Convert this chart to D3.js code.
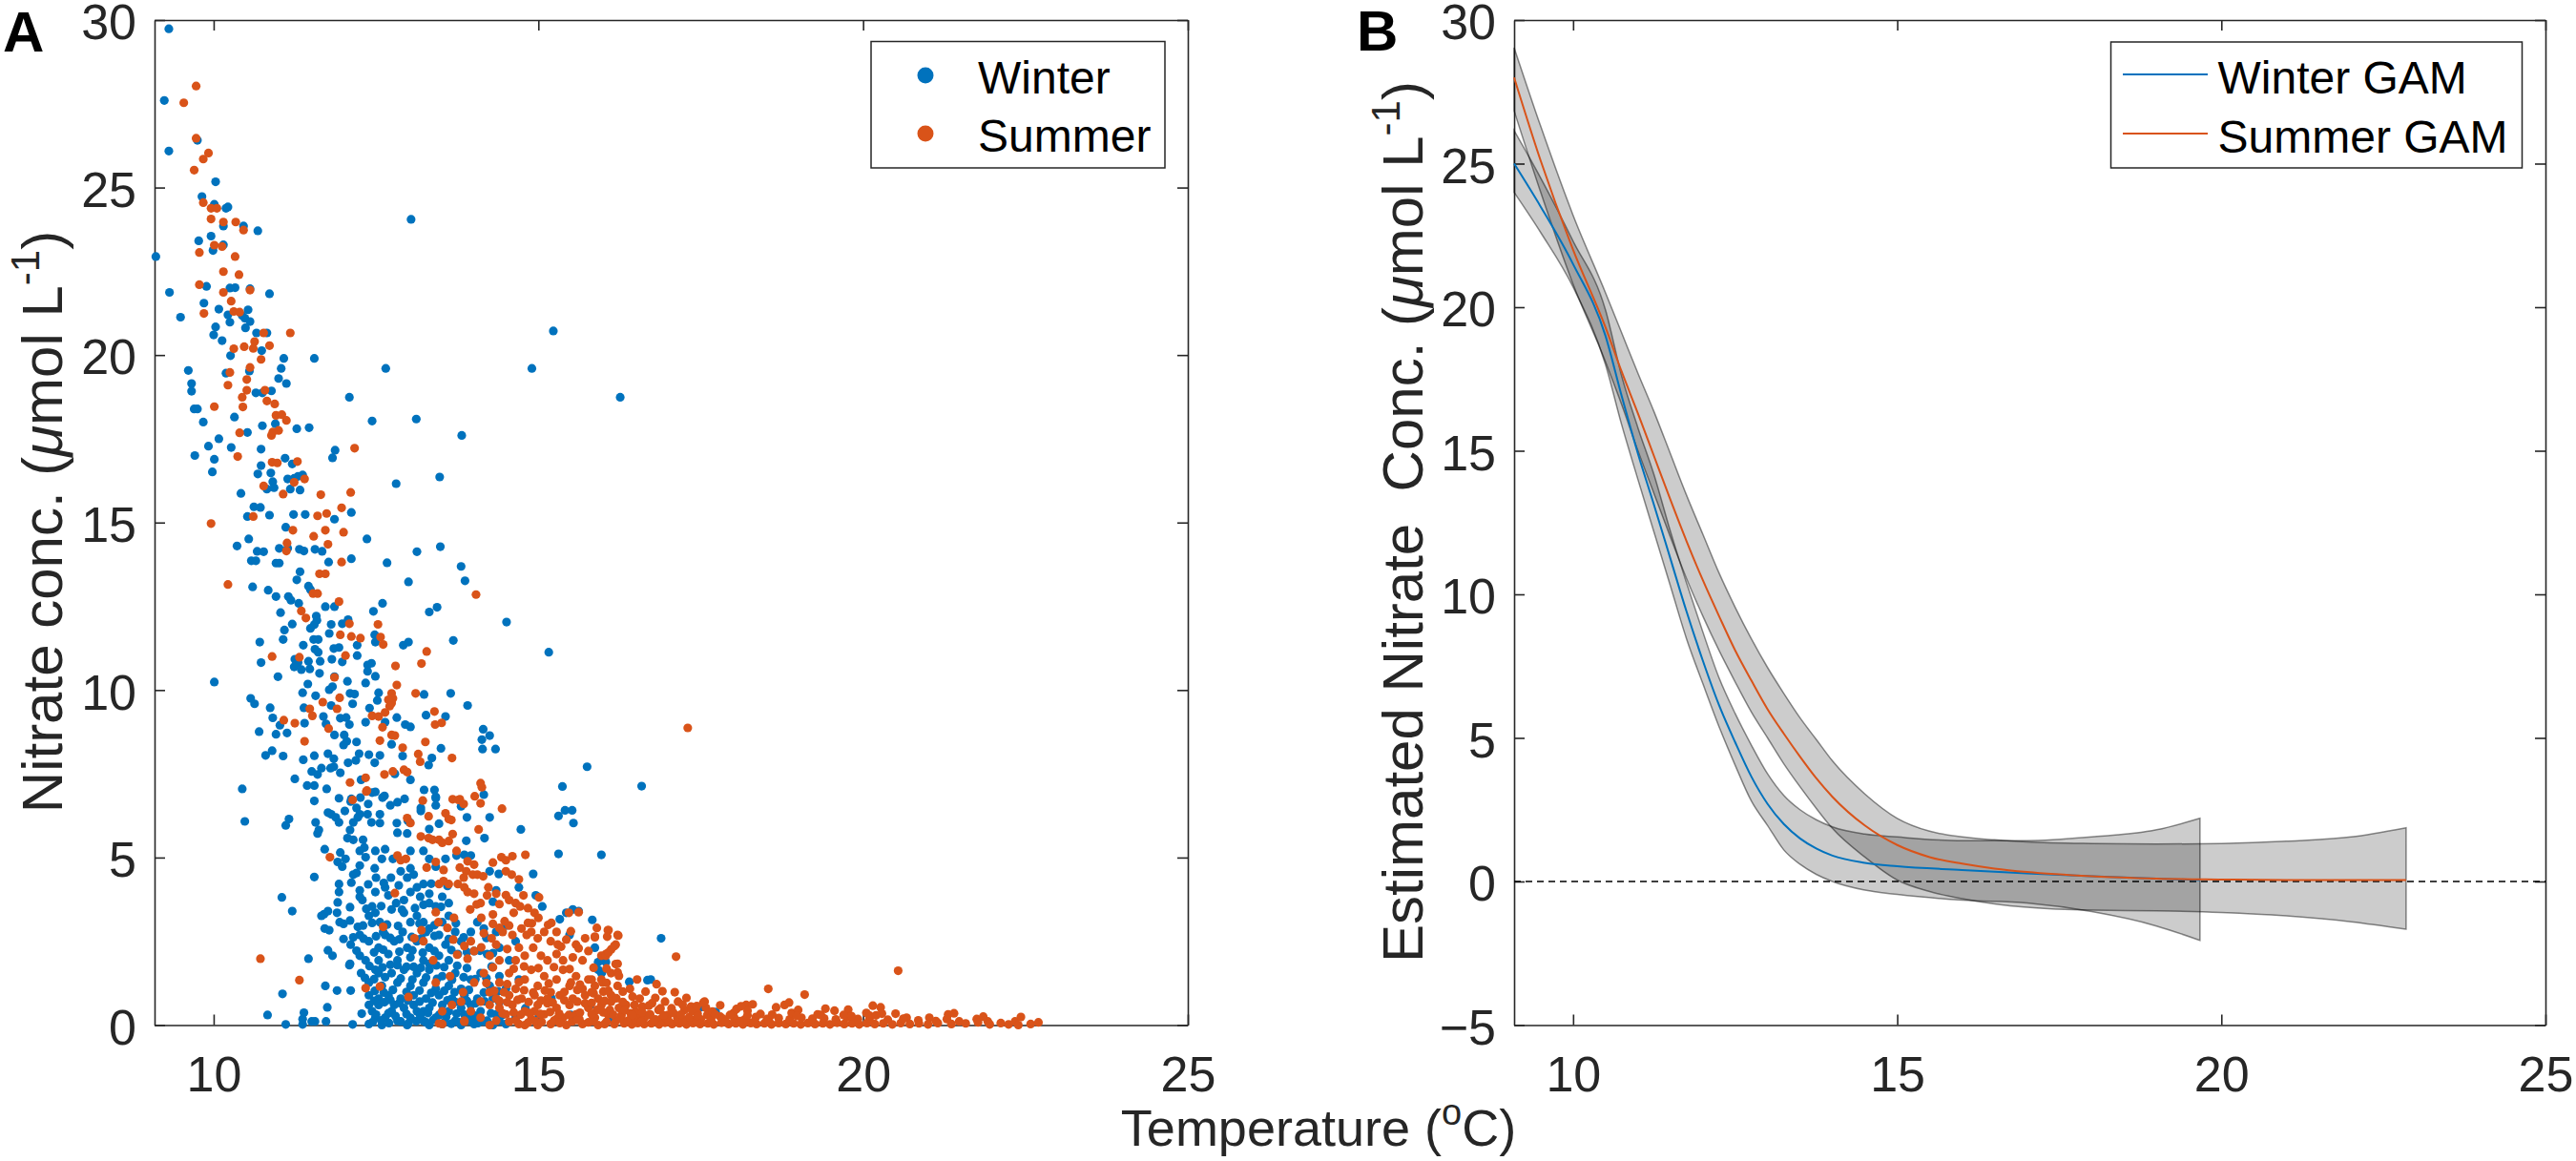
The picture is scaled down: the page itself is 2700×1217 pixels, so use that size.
<!DOCTYPE html>
<html>
<head>
<meta charset="utf-8">
<script src="https://cdn.jsdelivr.net/npm/d3@7"></script>
<style>
  body { margin: 0; background: #fff; }
  svg text { font-family: "Liberation Sans", Arial, Helvetica, sans-serif; }
</style>
</head>
<body>
<div id="chart"></div>
<script>
// ---- data ----
var xTicks = [10, 15, 20, 25]
var yTicksA = [0, 5, 10, 15, 20, 25, 30]
var yTicksB = [-5, 0, 5, 10, 15, 20, 25, 30]

// panel A, [temperature, nitrate]
var winterPoints = [
  [9.31,29.74],[9.24,27.6],[9.31,26.09],[9.75,26.41],[10.03,25.17],[9.82,24.73],[10.01,24.5],[10.19,24.38],[10.22,24.42],[10.15,23.85],
  [10.46,23.85],[10.68,23.71],[13.04,24.05],[9.77,23.41],[9.96,23.55],[9.99,23.12],[10.15,23.29],[9.11,22.94],[9.89,22.05],[10.25,22.0],
  [10.33,22.01],[10.56,21.98],[9.32,21.87],[10.86,21.83],[9.85,21.55],[9.49,21.13],[10.08,21.37],[10.22,21.2],[10.44,21.18],[10.53,21.35],
  [10.25,20.98],[10.48,21.1],[10.56,21.0],[10.03,20.84],[10.49,20.81],[10.0,20.6],[10.66,20.66],[10.82,20.66],[10.13,20.43],[10.74,20.13],
  [10.26,19.98],[11.08,19.9],[11.55,19.9],[12.65,19.6],[14.9,19.6],[15.23,20.72],[16.26,18.74],[9.61,19.54],[10.55,19.52],[11.04,19.6],
  [10.19,19.46],[9.66,19.15],[11.0,19.3],[11.12,19.15],[9.66,18.92],[10.65,18.87],[10.75,18.87],[10.89,18.93],[12.09,18.74],[9.7,18.39],
  [9.75,18.39],[10.32,18.15],[9.84,18.0],[12.44,18.03],[13.12,18.09],[10.75,17.89],[10.95,17.95],[11.28,17.8],[11.47,17.83],[10.52,17.69],
  [13.82,17.6],[10.08,17.5],[9.92,17.28],[10.27,17.24],[11.87,17.16],[11.83,16.93],[9.71,17.0],[10.01,16.89],[10.73,17.19],[11.1,16.92],
  [11.21,16.75],[9.98,16.51],[10.73,16.7],[10.68,16.45],[10.88,16.48],[13.48,16.36],[11.14,16.3],[11.24,16.32],[11.3,16.38],[11.37,16.42],
  [10.91,16.22],[10.82,16.0],[10.93,16.04],[11.18,16.0],[11.33,15.97],[12.81,16.16],[10.42,15.87],[10.62,15.47],[10.72,15.45],[10.52,15.18],
  [10.86,15.22],[11.23,15.24],[11.41,15.24],[11.86,15.1],[12.12,15.3],[11.11,14.86],[10.54,14.51],[12.36,14.51],[13.49,14.28],[13.13,14.13],
  [10.36,14.3],[10.67,14.14],[10.77,14.13],[11.01,14.23],[11.14,14.23],[11.32,14.2],[11.39,14.15],[11.56,14.2],[11.67,14.14],[10.58,13.86],
  [10.65,13.86],[10.96,13.79],[11.01,13.79],[11.77,13.82],[12.12,13.92],[12.67,13.8],[11.33,13.53],[13.81,13.69],[13.0,13.23],[13.87,13.26],
  [10.6,13.08],[10.84,12.98],[11.28,13.29],[11.46,13.1],[11.49,13.0],[10.96,12.79],[11.15,12.79],[11.19,12.68],[11.31,12.59],[11.72,12.49],
  [11.86,12.49],[12.46,12.35],[12.6,12.59],[13.32,12.33],[13.44,12.47],
  [14.51,12.03],[11.03,12.31],[11.58,12.21],[11.59,12.08],[11.81,11.96],[11.98,11.98],[12.07,12.1],[11.21,11.97],[11.49,11.84],[11.55,11.95],
  [11.09,11.79],[11.78,11.69],[12.48,11.65],[12.49,11.43],[11.07,11.51],[10.71,11.43],[13.69,11.48],[15.16,11.13],[11.54,11.51],[11.61,11.51],
  [11.38,11.34],[11.85,11.24],[11.93,11.27],[12.21,11.34],[12.92,11.34],[13.0,11.43],[11.56,11.22],[10.73,10.82],[11.25,10.92],[11.3,10.82],
  [11.46,10.86],[11.61,11.13],[11.64,10.86],[11.82,10.92],[11.98,10.84],[12.21,11.03],[11.24,10.69],[11.35,10.61],[11.48,10.63],[11.63,10.5],
  [12.37,10.75],[12.43,10.8],[12.37,10.56],[10.99,10.4],[11.86,10.4],[12.49,10.41],[11.45,10.18],[12.06,10.26],[12.34,10.21],[11.78,10.01],
  [11.83,10.1],[11.37,9.92],[11.57,9.83],[12.1,9.9],[12.17,9.88],[12.54,9.92],[13.24,9.87],[13.65,9.9],[13.91,9.54],[10.57,9.75],
  [10.63,9.59],[11.81,9.54],[12.14,9.59],[12.52,9.69],[12.4,9.46],[10.87,9.47],[11.39,9.47],[10.91,9.17],[11.02,8.95],[11.4,9.01],
  [11.69,9.21],[11.73,8.99],[11.95,9.16],[12.04,9.18],[12.09,8.97],[12.34,9.04],[12.82,9.18],[12.64,9.04],[12.95,8.97],[13.03,8.9],
  [13.27,9.25],[13.57,9.21],[14.15,8.83],[10.7,8.76],[10.96,8.68],[11.13,8.72],[11.86,8.66],[12.01,8.66],[12.05,8.47],[12.2,8.45],
  [12.74,8.38],[14.13,8.52],[14.25,8.64],[14.14,8.24],[14.34,8.24],[10.9,8.19],[10.8,8.05],[11.07,8.03],[11.38,7.92],[11.55,8.04],
  [11.76,8.1],[11.85,7.95],[11.85,7.71],[12.0,8.36],[12.07,7.83],[12.24,8.1],[12.19,7.9],[12.39,8.07],[12.48,7.83],[12.56,8.05],
  [12.91,8.03],[13.31,7.76],[13.36,7.97],[13.5,8.26],[11.25,7.35],[11.51,7.57],[11.6,7.48],[11.66,7.67],[11.8,7.67],[11.95,7.53],
  [12.27,7.32],[12.79,7.5],[13.03,7.32],[10.44,7.05],[11.44,7.15],[11.55,7.15],[11.74,7.05],[12.44,6.94],[12.63,6.84],[13.24,7.02],
  [13.4,7.02],[13.42,6.81],[14.16,6.88],[15.37,7.12],[15.75,7.71],[12.12,6.75],[11.93,6.77],[16.59,7.13],[10.01,10.24],
  [10.48,6.08],[11.11,5.96],[11.16,6.15],[11.55,6.69],[11.57,6.05],[11.6,5.72],[11.62,5.82],[11.71,5.25],[11.55,4.42],[11.05,3.81],
  [11.21,3.4],[11.46,1.98],[11.06,0.93],[10.83,0.3],[11.11,0.02],[11.37,0.02],[11.39,0.37],[11.37,0.18],[11.51,0.11],[11.56,0.11],
  [11.73,0.11],[11.75,0.53],[11.72,1.17],[11.9,1.03],[12.11,1.03],[12.14,0.02],[12.28,0.34],[12.39,0.6],
  [12.26,6.79],[12.38,6.6],[12.49,6.96],[12.6,6.79],[12.72,6.56],[12.83,6.65],[12.94,6.75],[12.11,6.67],[12.2,6.48],[12.25,6.29],
  [13.42,6.77],[13.42,6.56],[13.19,6.48],[13.81,6.53],[14.25,6.2],[15.31,6.24],[15.41,6.41],[15.52,6.41],[15.54,6.03],[14.73,5.84],
  [15.97,5.08],[15.31,5.11],[14.92,4.51],
  [11.76,6.34],[11.81,6.29],[11.88,6.2],[11.93,6.05],[12.02,6.39],[12.1,5.82],[12.15,6.05],[12.22,6.2],[12.06,5.58],[12.15,5.53],
  [12.37,6.29],[12.43,6.05],[12.56,6.03],[12.3,5.53],[12.32,5.3],[12.82,6.03],[12.83,5.74],[12.98,5.72],[13.02,6.05],[12.99,6.1],
  [13.19,6.39],[13.32,5.85],[13.47,6.01],[13.9,6.2],[13.89,5.5],[14.17,5.58],[12.56,6.29],
  [11.95,5.15],[12.03,4.96],[11.91,4.87],[11.98,4.73],[12.25,5.2],[12.34,5.01],[12.25,4.76],[12.2,4.54],[12.49,5.2],[12.64,5.25],
  [12.59,4.96],[12.48,4.68],[12.5,4.4],[12.76,4.96],[12.88,4.59],[13.03,4.68],[13.08,4.49],[12.98,4.4],[12.73,4.4],[13.03,5.2],
  [13.23,5.2],[13.32,4.96],[13.42,4.73],[13.57,4.96],[13.74,5.06],[13.86,5.08],[13.96,5.06],[14.25,4.59],[14.39,4.51],
  [11.93,4.21],[11.93,3.97],[11.91,3.66],[12.15,4.49],[12.12,4.25],[12.25,4.02],[12.29,3.73],[12.49,3.97],[12.44,3.54],[12.25,3.83],
  [12.64,4.11],[12.69,3.87],[12.81,3.64],[12.93,3.73],[13.03,3.97],[13.13,4.11],[13.23,4.21],[13.18,3.83],[13.32,3.92],[13.23,3.59],
  [13.32,3.64],[13.52,3.83],[13.62,3.64],[13.42,3.54],[14.35,4.02],[14.3,3.68],[14.7,4.11],[14.96,3.87],[15.06,3.54],[15.43,3.35],
  [15.53,3.45],[15.62,3.4],[15.83,3.14],[11.7,3.31],[11.76,3.4],[11.66,3.26],[11.9,3.35],[11.94,3.07],[12.1,3.12],[12.22,2.93],
  [12.39,3.26],[12.49,3.35],[12.56,3.07],[12.61,2.78],[12.74,3.45],[12.93,3.35],[13.03,3.07],[13.13,3.26],[13.23,3.07],[13.32,2.88],
  [13.52,3.07],[13.62,3.26],
  [11.71,2.88],[11.78,2.83],[12.0,2.57],[12.11,2.4],[12.25,2.69],[12.39,2.5],[12.54,2.31],[12.64,2.69],[12.78,2.5],[12.91,2.78],
  [12.98,2.31],[13.13,2.5],[13.27,2.78],[13.32,2.31],[13.47,2.69],[13.57,2.4],[13.72,2.78],[13.81,2.5],[13.96,2.78],[14.06,3.07],
  [14.16,2.88],[14.35,2.78],[14.5,2.97],[14.65,2.5],[15.33,3.16],[15.48,2.69],[15.87,2.31],[15.97,1.93],[11.76,2.23],[11.83,2.07],
  [12.1,1.83],[12.25,2.07],[12.34,1.93],[12.54,1.93],[12.69,2.12],[12.83,1.93],[13.03,2.02],[13.23,1.93],[13.47,2.07],[13.62,1.93],
  [13.76,2.12],[14.01,2.21],[14.21,2.12],[14.4,2.31],[14.55,1.93],[12.09,1.79],
  [12.27,1.55],[12.39,1.27],[12.49,1.65],[12.59,1.17],[12.74,1.55],[12.83,1.27],[12.93,1.65],[13.03,1.17],[13.13,1.55],[13.23,1.27],
  [13.32,1.65],[13.42,1.08],[13.52,1.46],[13.62,1.17],[13.72,1.55],[13.81,1.08],[13.96,1.36],[14.11,1.55],[14.25,1.17],[14.4,1.46],
  [14.5,1.08],[14.7,1.36],[12.39,0.89],[12.54,0.79],[12.69,0.89],[12.88,0.79],[13.08,0.89],[13.27,0.79],[13.47,0.89],[13.67,0.79],
  [13.86,0.89],[14.06,0.79],[14.3,0.79],[15.92,1.65],[15.97,1.55],[12.83,1.79],[13.08,1.74],[13.32,1.83],[12.54,1.55],
  [12.44,0.41],[12.54,0.6],[12.64,0.22],[12.74,0.41],[12.83,0.13],[12.93,0.51],[13.03,0.22],[13.13,0.41],[13.23,0.13],[13.32,0.51],
  [13.42,0.22],[13.52,0.03],[13.62,0.41],[13.72,0.13],[13.81,0.51],[13.91,0.22],[14.01,0.03],[14.11,0.41],[14.21,0.13],[14.35,0.32],
  [14.5,0.03],[14.65,0.22],[12.39,0.03],[12.59,0.0],[12.98,0.0],[13.32,0.0],[13.81,0.0],[14.3,0.0],[12.49,0.22],[12.78,0.6],
  [13.08,0.6],[13.52,0.6],[13.96,0.6],[13.23,0.41],
  [16.89,2.59],[15.92,1.88],[16.04,1.88],[15.98,1.57],[16.4,1.29],[16.68,1.34],[16.73,1.36],[17.51,0.54],[17.73,0.39],
  [14.8,0.5],[15.0,0.2],[15.2,0.8],[15.5,0.3],[15.8,0.6],[16.1,0.2],
  // dense core near the axis
  [12.45,0.09],[12.58,0.14],[12.7,0.06],[12.88,0.11],[13.0,0.05],[13.12,0.12],[13.27,0.08],[13.38,0.15],[13.56,0.1],[13.66,0.04],
  [13.77,0.09],[13.95,0.13],[14.07,0.06],[14.18,0.1],[14.4,0.12],
  [12.5,0.31],[12.69,0.35],[12.8,0.27],[12.97,0.33],[13.18,0.29],[13.3,0.36],[13.47,0.3],[13.58,0.25],[13.74,0.34],[13.86,0.31],
  [14.02,0.28],[14.27,0.35],[14.44,0.3],
  [12.47,0.72],[12.63,0.68],[12.72,0.75],[12.86,0.66],[12.99,0.73],[13.17,0.7],[13.37,0.67],[13.6,0.74],[13.72,0.69],[13.9,0.72],
  [14.03,0.65],[14.17,0.71],[14.4,0.68],
  [12.48,1.02],[12.62,0.97],[12.76,1.05],[12.97,0.99],[13.17,1.03],[13.35,0.96],[13.55,1.02],[13.71,0.98],[13.93,1.05],[14.16,0.97],[14.38,1.01],
  [12.33,1.41],[12.47,1.37],[12.64,1.43],[12.88,1.39],[13.06,1.36],[13.27,1.42],[13.44,1.38],[13.67,1.35],[13.85,1.43],[14.03,1.37],[14.2,1.4],
  [12.4,1.76],[12.6,1.72],[12.72,1.8],[12.97,1.74],[13.19,1.71],[13.43,1.78],[13.55,1.73],[13.75,1.77],[13.9,1.7],[14.28,1.75],
  [12.2,2.22],[12.47,2.17],[12.61,2.25],[12.86,2.19],[13.06,2.23],[13.22,2.16],[13.4,2.21],[13.66,2.24],[13.9,2.18],[14.1,2.22],[14.3,2.15],
  [12.15,2.62],[12.31,2.58],[12.5,2.65],[12.72,2.6],[12.86,2.56],[13.05,2.63],[13.2,2.59],[13.4,2.66],[13.62,2.57],[13.85,2.62],[14.2,2.6],
  [12.0,3.02],[12.3,2.97],[12.44,3.05],[12.67,3.0],[12.84,2.96],[13.17,3.03],[13.4,2.98],[13.73,3.04],
  [12.1,3.52],[12.35,3.47],[12.58,3.55],[13.1,3.49],[12.9,3.44],[13.5,3.53],
  [12.38,4.2],[12.62,4.24],[12.85,4.17],[13.35,4.22],[13.6,4.15]
]

var summerPoints = [
  [9.54,27.53],[9.73,28.03],[9.73,26.47],[9.84,25.85],[9.92,26.03],[9.7,25.52],[9.84,24.55],[9.96,24.38],[10.05,24.38],[9.96,24.06],
  [10.15,23.97],[10.34,23.97],[10.46,23.73],[10.01,23.28],[10.13,23.24],[9.78,23.06],[10.33,22.94],[10.15,22.49],[10.39,22.4],[9.78,22.1],
  [10.15,21.87],[10.56,21.94],[10.27,21.61],[9.85,21.24],[10.31,21.3],[10.4,21.28],[10.77,20.66],[11.18,20.66],[10.63,20.4],[10.61,20.2],
  [10.86,20.28],[10.47,20.25],[10.31,20.19],[10.73,19.87],[10.56,19.63],[10.25,19.48],[10.51,19.27],[10.22,19.1],[10.79,18.95],[10.51,18.95],
  [10.44,18.74],[10.82,18.63],[10.94,18.54],[10.45,18.45],[10.01,18.46],[10.96,18.2],[11.05,18.22],[11.12,18.05],[11.0,17.75],[10.4,17.68],
  [10.89,17.6],[10.91,17.7],[12.17,17.22],[10.37,16.97],[10.9,16.8],[10.98,16.78],[11.29,16.82],[11.4,16.3],[11.24,16.2],[10.77,16.09],
  [11.07,15.85],[11.65,15.83],[12.11,15.9],[10.61,15.18],[11.6,15.2],[11.74,15.27],[11.97,15.44],[9.96,14.97],[11.22,14.77],[11.72,14.77],
  [12.0,14.71],[11.54,14.59],[11.13,14.39],[11.12,14.15],[11.76,14.35],[11.97,13.82],[11.63,13.47],[11.72,13.47],[10.22,13.15],[11.53,12.88],
  [11.6,12.88],[14.04,12.85],[11.93,12.64],
  [11.35,12.36],[11.42,12.15],[12.09,11.98],[12.53,11.96],[11.95,11.65],[12.12,11.6],[12.26,11.55],[12.57,11.58],[12.61,11.36],[13.28,11.15],
  [10.9,11.0],[11.32,10.98],[12.03,11.03],[12.8,10.72],[13.2,10.79],[11.86,10.38],[12.82,10.15],[11.94,9.77],[12.74,9.9],[12.76,9.75],
  [12.74,9.61],[13.11,9.9],[11.68,9.64],[11.9,9.44],[12.69,9.71],[12.71,9.52],[12.64,9.33],[11.48,9.44],[11.52,9.23],[11.08,9.1],
  [11.25,9.01],[11.77,8.85],[12.44,9.23],[12.54,9.21],[12.6,8.89],[12.74,8.66],[12.79,8.64],[13.4,9.36],[13.41,8.97],[13.51,9.02],
  [11.4,8.47],[12.56,8.49],[13.26,8.45],[12.91,8.28],[13.15,8.09],[13.18,7.86],[13.67,7.97],[12.1,7.24],[12.34,7.38],[12.63,7.48],
  [12.76,7.57],[12.93,7.62],[12.98,7.55],[12.36,7.0],[14.11,7.22],[14.13,7.1],[13.68,6.74],[13.79,6.74],[14.02,6.83],[12.14,6.72],
  [17.3,8.87],
  [11.79,5.01],[10.72,1.98],[11.32,1.34],[12.34,1.1],[12.56,1.15],[12.35,6.97],[13.22,6.7],[13.77,6.72],[13.85,6.6],[14.11,6.62],
  [14.44,6.46],[12.98,6.18],[13.03,6.03],[13.31,6.23],[13.57,6.32],[13.62,6.15],[13.66,6.12],[14.08,5.84],[13.19,5.63],[13.31,5.58],
  [13.37,5.53],[13.47,5.53],[13.52,5.44],[13.68,5.7],[13.62,5.49],
  [12.83,5.06],[12.88,4.92],[12.96,4.96],[13.28,4.7],[13.42,4.87],[13.54,4.63],[13.74,5.2],[13.79,4.7],[13.89,4.59],[13.99,4.49],
  [14.06,4.49],[14.15,4.44],[14.43,5.01],[14.5,4.92],[14.6,5.04],[14.8,5.08],[14.5,4.59],[14.59,4.49],[13.91,4.89],[14.01,4.79],
  [12.79,3.94],[13.47,4.21],[13.54,4.3],[13.62,4.21],[13.76,4.21],[13.86,4.11],[13.91,3.97],[14.01,3.92],[14.11,3.64],[14.23,4.11],
  [14.21,3.87],[14.4,3.61],[14.55,3.73],[14.65,3.64],[14.72,3.54],[14.77,3.87],[15.01,3.81],[14.84,3.49],[14.94,3.35],[15.47,3.35],
  [15.62,3.37],[13.42,3.37],[13.46,3.07],[13.2,2.83],[12.61,2.93],
  [13.09,2.59],[13.23,2.5],[13.38,1.93],[13.69,2.55],[13.86,2.36],[13.96,2.5],[14.01,2.21],[14.16,2.74],[14.28,2.59],[14.35,2.4],
  [14.45,2.78],[14.6,2.69],[14.74,2.88],[14.82,2.69],[14.89,2.78],[14.99,2.59],[15.09,2.78],[15.19,2.5],[15.28,2.78],[15.43,2.55],
  [15.58,2.4],[15.72,2.59],[15.87,2.64],[16.07,2.83],[16.22,2.69],[16.19,2.4],[16.04,2.12],[16.22,1.83],[14.7,2.31],[14.79,2.07],
  [14.92,2.31],[15.04,2.07],[15.14,1.93],[15.28,2.12],[15.38,1.93],[15.53,2.02],[15.68,1.93],[14.4,1.93],[13.91,1.98],[14.25,2.07],
  [14.65,1.93],[15.77,2.21],[15.97,2.07],[16.12,2.26],
  [13.0,0.84],[13.42,1.27],[13.64,1.46],[13.84,0.98],[14.01,1.27],[14.16,1.55],[14.25,0.98],[14.4,1.27],[14.55,1.55],[14.65,1.08],
  [14.79,1.36],[14.89,1.65],[14.99,1.17],[15.09,1.46],[15.19,0.98],[15.28,1.36],[15.38,1.65],[15.48,1.17],[15.58,1.46],[15.68,1.08],
  [15.77,1.36],[15.87,1.17],[15.97,1.36],[16.12,1.55],[16.22,1.17],[14.74,0.79],[14.94,0.89],[15.14,0.79],[15.33,0.89],[15.53,0.79],
  [15.72,0.89],[15.92,0.79],[16.12,0.89],[14.55,0.89],[14.35,0.79],[13.81,0.7],[14.11,0.7],
  [13.52,0.41],[13.67,0.6],[13.86,0.13],[13.96,0.41],[14.11,0.22],[14.25,0.6],[14.35,0.13],[14.4,0.51],[14.5,0.32],[14.6,0.6],
  [14.7,0.03],[14.79,0.41],[14.89,0.18],[14.99,0.6],[15.09,0.32],[15.19,0.03],[15.28,0.51],[15.38,0.22],[15.48,0.6],[15.58,0.32],
  [15.68,0.03],[15.77,0.51],[15.87,0.22],[15.97,0.6],[16.07,0.32],[16.17,0.03],[16.24,0.51],[14.79,0.0],[14.99,0.0],[15.43,0.0],
  [15.92,0.0],[16.12,0.7],[13.52,0.03],[14.25,0.0],[15.14,0.65],[15.72,0.65],[16.02,0.03],[15.63,0.18],[14.94,0.41],[15.28,0.18],
  [13.47,0.05],[13.86,0.1],
  [20.54,1.62],[18.54,1.08],[19.1,0.91],[17.12,2.04],[15.87,2.62],[16.08,2.83],[16.06,2.64],[16.23,2.67],[16.17,2.36],[16.04,2.07],
  [16.08,2.17],[16.19,1.82],[16.22,1.57],[16.24,1.47],[16.52,1.36],[16.82,1.22],[16.91,1.01],[17.1,0.98],[17.28,0.81],[16.8,0.81],
  [16.56,0.79],[15.99,1.27],[15.82,1.36],[16.41,1.08],[17.56,0.7],[17.58,0.51],[18.2,0.6],[18.22,0.43],[18.66,0.53],[18.79,0.6],
  [18.86,0.67],[19.42,0.49],[19.56,0.43],[19.77,0.46],[20.05,0.36],[20.27,0.53],[20.29,0.34],[20.5,0.34],[20.67,0.22],[21.02,0.22],
  [21.31,0.32],[21.29,0.18],[21.48,0.11],[21.75,0.18],[21.77,0.08],[21.92,0.11],[22.24,0.02],[22.34,0.11],[22.43,0.24],[22.39,0.0],
  [16.3,1.0],[16.35,0.6],[16.45,0.85],[16.5,0.4],[16.6,0.55],[16.65,1.0],[16.75,0.65],[16.85,0.45],[16.95,0.7],[17.05,0.5],
  [17.15,0.7],[17.25,0.45],[17.35,0.55],[17.45,0.35],[16.28,0.3],[16.4,0.15],[16.55,0.2],[16.7,0.3],[16.9,0.2],[17.0,0.3],
  [17.2,0.2],[17.4,0.15],[17.6,0.3],[17.8,0.25],[18.0,0.35],[15.9,0.45],[16.0,1.0],[16.1,0.45],[16.2,0.8],[15.85,0.95],
  [17.54,0.67],
  [16.32,0.05],[16.44,0.02],[16.53,0.06],[16.63,0.03],[16.74,0.05],[16.86,0.02],[16.95,0.07],[17.06,0.03],[17.17,0.05],[17.28,0.02],
  [17.38,0.06],[17.49,0.03],[17.61,0.05],[17.7,0.02],[17.82,0.07],[17.93,0.03],[18.04,0.05],[18.15,0.02],[18.27,0.06],[18.36,0.03],
  [18.48,0.05],[18.59,0.02],[18.7,0.06],[18.81,0.03],[18.93,0.05],[19.04,0.02],[19.15,0.06],[19.26,0.03],[19.38,0.05],[19.49,0.02],
  [19.6,0.07],[19.71,0.03],[19.83,0.05],[19.94,0.02],[20.06,0.06],[20.18,0.03],[20.31,0.05],[20.45,0.02],[20.58,0.06],[20.72,0.03],
  [20.86,0.05],[21.0,0.02],[21.15,0.06],[21.36,0.03],[21.58,0.05],[21.95,0.02],[22.12,0.06],[22.58,0.03],[22.7,0.08],
  [16.27,0.22],[16.47,0.18],[16.64,0.24],[16.8,0.17],[16.97,0.21],[17.14,0.19],[17.32,0.23],[17.5,0.17],[17.66,0.22],[17.84,0.19],
  [18.02,0.2],[18.18,0.17],[18.35,0.24],[18.52,0.18],[18.7,0.21],[18.87,0.17],[19.05,0.22],[19.22,0.19],[19.4,0.2],[19.58,0.17],
  [19.75,0.23],[19.92,0.18],[20.1,0.2],[20.38,0.16],[20.62,0.19],[20.85,0.14],[21.12,0.12],
  [16.33,0.45],[16.6,0.38],[16.88,0.5],[17.08,0.36],[17.37,0.42],[17.68,0.4],[18.05,0.48],[18.42,0.33],[18.9,0.36],[19.3,0.32],
  [19.7,0.3],[20.1,0.28],[18.3,0.62],[19.0,0.45],[20.15,0.58],[21.4,0.35],[21.85,0.25],
  // dense core near the axis
  [14.55,0.1],[14.65,0.14],[14.84,0.07],[14.95,0.12],[15.05,0.09],[15.24,0.13],[15.33,0.06],[15.52,0.11],[15.6,0.15],[15.77,0.08],
  [15.84,0.12],[16.05,0.1],[16.2,0.14],[16.38,0.09],
  [14.45,0.35],[14.62,0.38],[14.73,0.31],[14.86,0.36],[15.03,0.33],[15.18,0.39],[15.32,0.34],[15.47,0.3],[15.64,0.37],[15.82,0.33],
  [16.0,0.38],[16.15,0.31],[16.42,0.35],
  [14.4,0.72],[14.52,0.68],[14.68,0.75],[14.85,0.69],[15.04,0.73],[15.22,0.67],[15.4,0.74],[15.6,0.7],[15.82,0.66],[16.02,0.72],[16.3,0.69],
  [14.32,1.02],[14.47,0.98],[14.78,1.04],[14.92,0.97],[15.1,1.03],[15.4,0.99],[15.6,1.05],[15.82,0.98],[16.08,1.02],
  [14.2,1.25],[14.52,1.22],[14.7,1.28],[15.16,1.24],[15.5,1.27],[15.64,1.21],[16.05,1.26],
  [14.3,1.72],[14.62,1.68],[14.78,1.75],[15.0,1.7],[15.24,1.73],[15.48,1.67],[15.85,1.71],[16.05,1.69],
  [14.12,2.32],[14.52,2.27],[15.35,2.34],[15.62,2.29],
  [14.3,3.02],[14.55,2.97],[14.9,3.04],[15.15,2.99],
  [14.35,3.92],[14.5,3.88],
  [13.7,3.2],[13.95,3.45],[14.12,3.2],[14.3,3.3],[14.48,3.1],[14.62,3.35],[14.84,3.05],[15.0,3.2],[15.2,3.05],[13.85,4.4],
  [14.3,4.85],[14.7,4.35],[14.05,3.6],[15.3,2.4],[15.5,2.8],[15.9,2.9],[14.4,2.9],[13.6,2.9],[13.75,2.1],
  [16.37,0.12],[16.58,0.1],[16.78,0.13],[17.01,0.11],[17.22,0.12],[17.44,0.1],[17.66,0.13],[17.88,0.11],[18.1,0.12],[18.32,0.1],[18.55,0.13],
  [16.45,0.3],[16.72,0.32],[16.93,0.29],[17.19,0.31],[17.45,0.28],[17.72,0.32],[17.95,0.3],[18.22,0.29],[18.6,0.31],[18.98,0.28],
  [19.35,0.3],[19.82,0.27],[20.2,0.29],
  [16.48,0.6],[16.7,0.58],[17.22,0.61],[17.44,0.57],[17.8,0.59],[18.12,0.56]
]

// panel B, GAM fits with confidence bands
var winterTemp = [9.09, 9.5, 10, 10.5, 10.75, 11, 11.25, 11.5, 11.75, 12, 12.25, 12.5, 12.75, 13, 13.25, 13.5, 13.75, 14, 14.5, 15, 16, 17, 18, 19, 19.67]
var winterFit  = [25.0, 23.5, 21.5, 19.0, 16.9, 14.9, 13.1, 11.25, 9.4, 7.7, 6.15, 4.85, 3.65, 2.7, 2.0, 1.5, 1.15, 0.9, 0.65, 0.53, 0.4, 0.28, 0.18, 0.1, 0.05]
var winterLo   = [24.0, 22.6, 20.7, 18.0, 15.9, 14.0, 12.15, 10.3, 8.45, 6.9, 5.4, 4.05, 2.8, 1.95, 1.1, 0.6, 0.25, 0.0, -0.3, -0.45, -0.65, -0.75, -1.05, -1.55, -2.05]
var winterHi   = [26.15, 24.5, 22.3, 19.9, 17.6, 15.8, 14.15, 12.2, 10.4, 8.7, 7.1, 5.85, 4.75, 3.75, 3.0, 2.5, 2.15, 1.9, 1.65, 1.55, 1.42, 1.42, 1.55, 1.8, 2.2]

var summerTemp = [9.09, 9.5, 10, 10.5, 10.75, 11, 11.25, 11.5, 11.75, 12, 12.25, 12.5, 12.75, 13, 13.25, 13.5, 13.75, 14, 14.5, 15, 15.5, 16, 16.5, 17, 18, 19, 20, 21, 22, 22.85]
var summerFit  = [28.0, 25.1, 22.0, 19.3, 17.75, 16.3, 14.8, 13.3, 11.85, 10.5, 9.25, 8.05, 7.0, 6.0, 5.15, 4.35, 3.6, 2.95, 1.95, 1.27, 0.85, 0.62, 0.45, 0.33, 0.18, 0.1, 0.07, 0.05, 0.05, 0.05]
var summerLo   = [26.84, 24.0, 20.8, 18.1, 16.6, 15.0, 13.5, 12.0, 10.55, 9.25, 8.05, 6.95, 5.9, 5.0, 4.1, 3.3, 2.55, 1.85, 0.85, 0.05, -0.35, -0.6, -0.78, -0.9, -1.0, -1.02, -1.08, -1.2, -1.4, -1.66]
var summerHi   = [29.04, 26.3, 23.2, 20.5, 19.1, 17.7, 16.35, 14.9, 13.45, 12.1, 10.75, 9.55, 8.45, 7.45, 6.55, 5.7, 4.95, 4.2, 3.05, 2.2, 1.75, 1.55, 1.45, 1.38, 1.32, 1.3, 1.32, 1.4, 1.55, 1.87]

// ---- layout ----
var width = 2700, height = 1217
var colorObj = { winter: '#0072BD', summer: '#D95319', axis: '#262626' }
var panelA = { left: 162, right: 1245, top: 21, bottom: 1074.5 }
var panelB = { left: 1587, right: 2668, top: 21, bottom: 1074.5 }
var tempDomain = [9.09, 25]
var tickFont = 52, labelFont = 60, legendFont = 48, dotR = 4.6

var svg = null, xA, yA, xB, yB

function createSvg () {
  svg = d3.select('#chart').append('svg').attr('width', width).attr('height', height)
}

function createScales () {
  xA = d3.scaleLinear().domain(tempDomain).range([panelA.left, panelA.right])
  yA = d3.scaleLinear().domain([0, 30]).range([panelA.bottom, panelA.top])
  xB = d3.scaleLinear().domain(tempDomain).range([panelB.left, panelB.right])
  yB = d3.scaleLinear().domain([-5, 30]).range([panelB.bottom, panelB.top])
}

// box with inward ticks on all four sides, labels on bottom/left only
function renderAxes (x, y, yTicks, p) {
  var g = svg.append('g').style('color', colorObj.axis)
  var parts = [
    { ax: d3.axisBottom(x).tickValues(xTicks).tickPadding(33), t: 'translate(0,' + p.bottom + ')' },
    { ax: d3.axisTop(x).tickValues(xTicks).tickFormat(''), t: 'translate(0,' + p.top + ')' },
    { ax: d3.axisLeft(y).tickValues(yTicks).tickPadding(19), t: 'translate(' + p.left + ',0)', left: true },
    { ax: d3.axisRight(y).tickValues(yTicks).tickFormat(''), t: 'translate(' + p.right + ',0)' }
  ]
  parts.forEach(function (d) {
    var a = g.append('g').attr('transform', d.t)
      .call(d.ax.tickSizeInner(-11).tickSizeOuter(0))
    a.select('.domain').attr('stroke-width', 1.6)
    a.selectAll('.tick line').attr('stroke-width', 1.6)
    a.selectAll('text')
      .attr('font-size', tickFont)
      .attr('font-family', '"Liberation Sans", Arial, sans-serif')
    if (d.left) a.selectAll('text').attr('dy', '0.38em')
  })
}

function renderScatter () {
  var g = svg.append('g')
  g.selectAll('circle.w').data(winterPoints).enter().append('circle')
    .attr('class', 'w')
    .attr('cx', d => xA(d[0])).attr('cy', d => yA(d[1])).attr('r', dotR)
    .attr('fill', colorObj.winter)
  // summer drawn second, so it sits on top
  g.selectAll('circle.s').data(summerPoints).enter().append('circle')
    .attr('class', 's')
    .attr('cx', d => xA(d[0])).attr('cy', d => yA(d[1])).attr('r', dotR)
    .attr('fill', colorObj.summer)
}

function renderGam () {
  var g = svg.append('g')
  var series = [
    { t: winterTemp, fit: winterFit, lo: winterLo, hi: winterHi, color: colorObj.winter },
    { t: summerTemp, fit: summerFit, lo: summerLo, hi: summerHi, color: colorObj.summer }
  ]
  var band = d3.area().curve(d3.curveMonotoneX)
    .x(d => xB(d.t)).y0(d => yB(d.lo)).y1(d => yB(d.hi))
  var line = d3.line().curve(d3.curveMonotoneX)
    .x(d => xB(d.t)).y(d => yB(d.fit))

  series.forEach(function (s) {
    s.rows = s.t.map((t, i) => ({ t: t, fit: s.fit[i], lo: s.lo[i], hi: s.hi[i] }))
    g.append('path').datum(s.rows).attr('d', band)
      .attr('fill', '#000').attr('fill-opacity', 0.2)
      .attr('stroke', '#000').attr('stroke-opacity', 0.45).attr('stroke-width', 1.5)
  })
  // zero reference
  g.append('line')
    .attr('x1', panelB.left).attr('x2', panelB.right)
    .attr('y1', yB(0)).attr('y2', yB(0))
    .attr('stroke', '#000').attr('stroke-width', 1.5).attr('stroke-dasharray', '7,5')
  series.forEach(function (s) {
    g.append('path').datum(s.rows).attr('d', line)
      .attr('fill', 'none').attr('stroke', s.color).attr('stroke-width', 2)
  })
}

function renderLegends () {
  var a = svg.append('g')
  a.append('rect').attr('x', 913).attr('y', 43.5).attr('width', 308).attr('height', 132.5)
    .attr('fill', '#fff').attr('stroke', colorObj.axis).attr('stroke-width', 1.5)
  ;[['Winter', colorObj.winter, 79], ['Summer', colorObj.summer, 140]].forEach(function (d) {
    a.append('circle').attr('cx', 970).attr('cy', d[2]).attr('r', 8.5).attr('fill', d[1])
    a.append('text').attr('x', 1025).attr('y', d[2] + 18.5).attr('font-size', legendFont)
      .attr('fill', '#000').text(d[0])
  })

  var b = svg.append('g')
  b.append('rect').attr('x', 2212.5).attr('y', 44).attr('width', 431).attr('height', 132)
    .attr('fill', '#fff').attr('stroke', colorObj.axis).attr('stroke-width', 1.5)
  ;[['Winter GAM', colorObj.winter, 78], ['Summer GAM', colorObj.summer, 140]].forEach(function (d) {
    b.append('line').attr('x1', 2225).attr('x2', 2314).attr('y1', d[2]).attr('y2', d[2])
      .attr('stroke', d[1]).attr('stroke-width', 2)
    b.append('text').attr('x', 2324.5).attr('y', d[2] + 20).attr('font-size', legendFont)
      .attr('fill', '#000').text(d[0])
  })
}

function yLabel (x, pre) {
  var t = svg.append('text')
    .attr('transform', 'translate(' + x + ',547) rotate(-90)')
    .attr('text-anchor', 'middle').attr('font-size', labelFont)
    .attr('fill', colorObj.axis).style('white-space', 'pre')
  t.append('tspan').text(pre + '(')
  t.append('tspan').attr('font-style', 'italic').text('\u03bc')
  t.append('tspan').text('mol L')
  t.append('tspan').attr('font-size', labelFont * 0.7).attr('dy', -24).text('-1')
  t.append('tspan').attr('dy', 24).text(')')
}

function renderLabels () {
  yLabel(65, 'Nitrate conc. ')
  yLabel(1491, 'Estimated Nitrate  Conc. ')

  var t = svg.append('text').attr('x', 1382).attr('y', 1201)
    .attr('text-anchor', 'middle').attr('font-size', 54).attr('fill', colorObj.axis)
  t.append('tspan').text('Temperature (')
  t.append('tspan').attr('font-size', 38).attr('dy', -22).text('o')
  t.append('tspan').attr('dy', 22).text('C)')

  svg.append('text').attr('x', 3).attr('y', 54).attr('font-size', 60)
    .attr('font-weight', 'bold').attr('fill', '#000').text('A')
  svg.append('text').attr('x', 1422).attr('y', 53).attr('font-size', 60)
    .attr('font-weight', 'bold').attr('fill', '#000').text('B')
}

function init () {
  createSvg()
  createScales()
  renderAxes(xA, yA, yTicksA, panelA)
  renderAxes(xB, yB, yTicksB, panelB)
  renderScatter()
  renderGam()
  renderLegends()
  renderLabels()
}
init()
</script>
</body>
</html>
